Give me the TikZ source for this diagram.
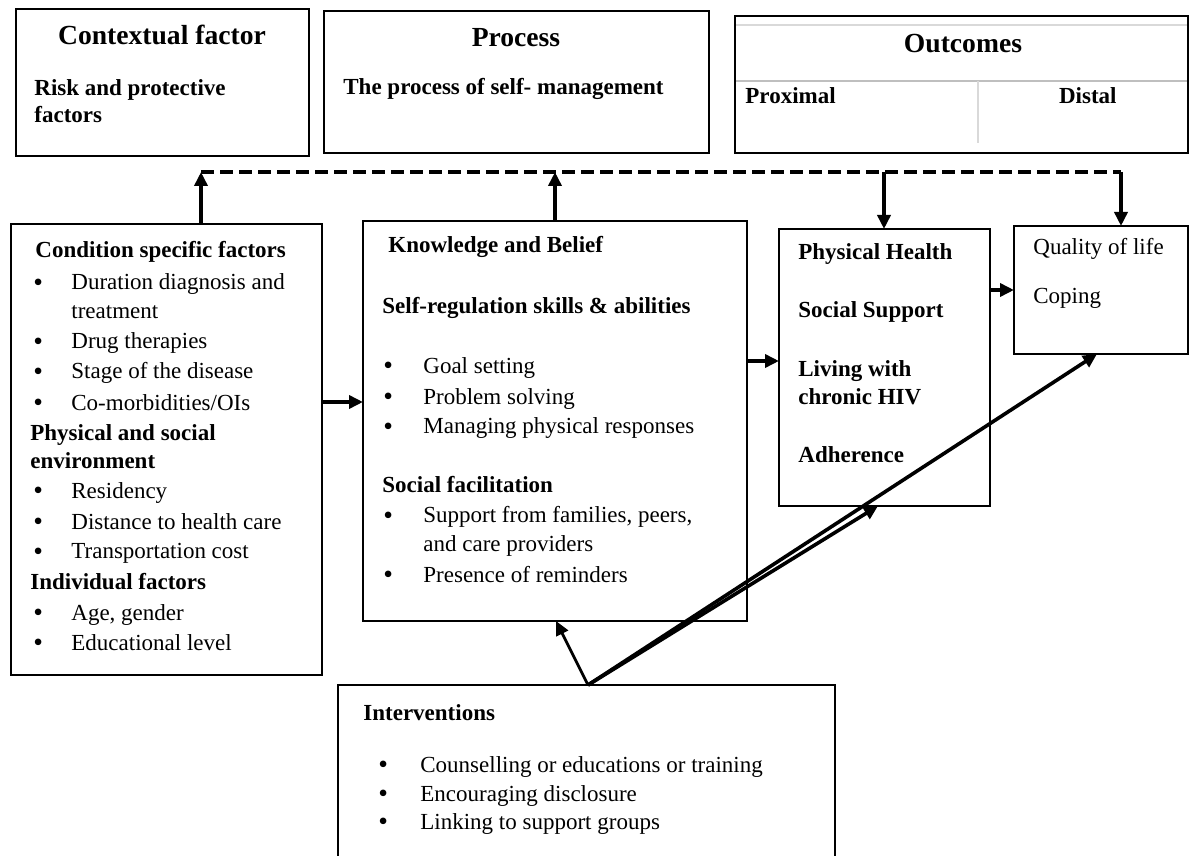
\documentclass[tikz,border=0pt]{standalone}
\usepackage{fontspec}
\setmainfont{Liberation Serif}
\usetikzlibrary{arrows.meta}
\tikzset{
 box/.style={draw=black, line width=1.1pt, anchor=north west, inner sep=0, outer sep=0},
 t/.style={anchor=base west, inner sep=0, font=\fontsize{11.5}{14}\selectfont},
 tb/.style={anchor=base west, inner sep=0, font=\fontsize{11.5}{14}\selectfont\bfseries},
 ttl/.style={anchor=base, inner sep=0, font=\fontsize{13.8}{16}\selectfont\bfseries},
 arr/.style={line width=1.8pt, -{Triangle[length=7pt,width=6.5pt]}},
 dsh/.style={line width=1.9pt, dash pattern=on 6.5pt off 3pt},
 faint/.style={line width=1pt, draw=black!15},
}
\newcommand\bul{\raisebox{-0.9pt}{\scalebox{1.2}{\textbullet}}}
\newcommand\bitem[5]{\node[t] (#1b) at (#2,#4) {\bul}; \node[t] (#1) at (#3,#4) {#5};}
\begin{document}
\begin{tikzpicture}[x=0.5pt,y=-0.5pt]
\useasboundingbox (0,0) rectangle (1191,856);
\clip (0,0) rectangle (1191,856);
\fill[white] (0,0) rectangle (1191,856);

% top boxes
\node[box, minimum width=146.5pt, minimum height=73.5pt] (ctx) at (16,9) {};
\node[box, minimum width=192.5pt, minimum height=71pt] (proc) at (324,11) {};
\draw[faint] (736,25) -- (1187,25);
\draw[faint, draw=black!25] (736,81) -- (1187,81);
\draw[faint] (978,81) -- (978,143);
\node[box, minimum width=226.5pt, minimum height=68.5pt] (out) at (735,16) {};

\node[ttl] (ctxT) at (162,45) {Contextual factor};
\node[tb] (ctx1) at (34,96) {Risk and protective};
\node[tb] (ctx2) at (34,123) {factors};
\node[ttl] (procT) at (516,47) {Process};
\node[tb] (proc1) at (343,95) {The process of self- management};
\node[ttl] (outT) at (963,53) {Outcomes};
\node[tb] (prx) at (745,104) {Proximal};
\node[tb, anchor=base east] (dst) at (1117,104) {Distal};

% main boxes
\node[box, minimum width=155.5pt, minimum height=225.5pt] (cond) at (11,224) {};
\node[box, minimum width=192pt, minimum height=200pt] (kb) at (363,221) {};
\node[box, minimum width=105.5pt, minimum height=138.5pt] (prox) at (779,229) {};
\node[box, minimum width=87pt, minimum height=64pt] (dist) at (1014,226) {};
\node[box, minimum width=248.5pt, minimum height=100pt] (int) at (338,685) {};

% condition box text
\node[tb] (c0) at (35,257) {Condition specific factors};
\bitem{c1}{33}{71}{290}{Duration diagnosis and}
\node[t] (c1x) at (71,319) {treatment};
\bitem{c2}{33}{71}{349}{Drug therapies}
\bitem{c3}{33}{71}{379}{Stage of the disease}
\bitem{c4}{33}{71}{410}{Co-morbidities/OIs}
\node[tb] (c5) at (30,440) {Physical and social};
\node[tb] (c5x) at (30,468) {environment};
\bitem{c6}{33}{71}{498}{Residency}
\bitem{c7}{33}{71}{529}{Distance to health care}
\bitem{c8}{33}{71}{559}{Transportation cost}
\node[tb] (c9) at (30,589) {Individual factors};
\bitem{c10}{33}{71}{620}{Age, gender}
\bitem{c11}{33}{71}{650}{Educational level}

% knowledge box text
\node[tb] (k0) at (388,253) {Knowledge and Belief};
\node[tb] (k1) at (382,314) {Self-regulation skills \& abilities};
\bitem{k2}{383}{423}{373}{Goal setting}
\bitem{k3}{383}{423}{404}{Problem solving}
\bitem{k4}{383}{423}{434}{Managing physical responses}
\node[tb] (k5) at (382,493) {Social facilitation};
\bitem{k6}{383}{423}{523}{Support from families, peers,}
\node[t] (k6x) at (423,552) {and care providers};
\bitem{k7}{383}{423}{582}{Presence of reminders}

% proximal outcomes
\node[tb] (p1) at (798,260) {Physical Health};
\node[tb] (p2) at (798,318) {Social Support};
\node[tb] (p3) at (798,377) {Living with};
\node[tb] (p3x) at (798,405) {chronic HIV};
\node[tb] (p4) at (798,462) {Adherence};

% distal outcomes
\node[t] (d1) at (1033,255) {Quality of life};
\node[t] (d2) at (1033,304) {Coping};

% interventions
\node[tb] (i0) at (363,720) {Interventions};
\bitem{i1}{378}{420}{772}{Counselling or educations or training}
\bitem{i2}{378}{420}{801}{Encouraging disclosure}
\bitem{i3}{378}{420}{829}{Linking to support groups}

% connector coordinates
\coordinate (dL) at (201,172);
\coordinate (dK) at (555,172);
\coordinate (dP) at (884,172);
\coordinate (dR) at (1121,172);
\coordinate (h1) at (0,402);
\coordinate (h2) at (0,361);
\coordinate (h3) at (0,290);
\coordinate (apex) at (588,685);
\coordinate (a1) at (556,0);
\coordinate (a2) at (878,0);
\coordinate (a3) at (1097,0);

% connectors
\draw[dsh] (dL) -- (dR);
\draw[arr] (cond.north -| dL) -- (dL);
\draw[arr] (kb.north -| dK) -- (dK);
\draw[arr] (dP) -- (prox.north -| dP);
\draw[arr] (dR) -- (dist.north -| dR);
\draw[arr] (cond.east |- h1) -- (kb.west |- h1);
\draw[arr] (kb.east |- h2) -- (prox.west |- h2);
\draw[arr] (prox.east |- h3) -- (dist.west |- h3);
\draw[arr, line width=1.4pt] (apex) -- (kb.south -| a1);
\draw[arr] (apex) -- (prox.south -| a2);
\draw[arr] (apex) -- (dist.south -| a3);
\end{tikzpicture}
\end{document}
